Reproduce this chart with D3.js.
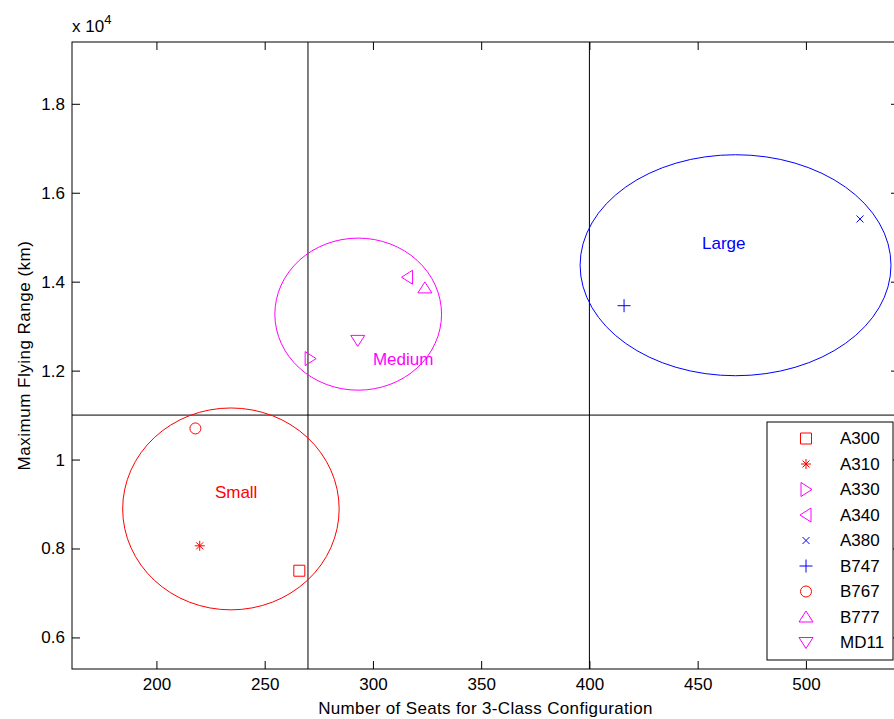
<!DOCTYPE html>
<html>
<head>
<meta charset="utf-8">
<script src="https://cdn.jsdelivr.net/npm/d3@7"></script>
<style>
  body { margin: 0; background: #fff; }
  svg { display: block; font-family: "Liberation Sans", Arial, sans-serif; }
</style>
</head>
<body>
<svg id="chart" width="894" height="719"></svg>
<script>
// aircraft data
var aircraft = ['A300', 'A310', 'A330', 'A340', 'A380', 'B747', 'B767', 'B777', 'MD11'];
var seats    = [266, 220, 271, 316, 525, 416, 218, 324, 293];
var flyRange = [7500, 8060, 12270, 14100, 15410, 13460, 10700, 13860, 12680];
var markers  = ['square', 'asterisk', 'triRight', 'triLeft', 'times', 'plus', 'circle', 'triUp', 'triDown'];
var classOf  = [0, 0, 1, 1, 2, 2, 0, 1, 1];

// size classes (ellipses)
var classNames  = ['Small', 'Medium', 'Large'];
var classColors = ['#ff0000', '#ff00ff', '#0000ff'];
var ellCx = [234.4, 293.2, 467.5];
var ellCy = [8890, 13270, 14370];
var ellRx = [50, 38.5, 71.8];
var ellRy = [2270, 1710, 2485];
var labelX = [227, 300, 452];
var labelY = [9260, 12270, 14880];

// divider lines
var xDividers = [270, 400];
var yDividers = [11000];

var xTicks = [200, 250, 300, 350, 400, 450, 500];
var yTicks = [6000, 8000, 10000, 12000, 14000, 16000, 18000];

var axLeft = 72, axRight = 899, axTop = 42, axBottom = 669;
var fs = 17;

var svg = d3.select('#chart');

var x = d3.scaleLinear().domain([161, 543]).range([axLeft, axRight]);
var y = d3.scaleLinear().domain([5290, 19390]).range([axBottom, axTop]);

// marker path, centred at 0,0
function markerPath(type){
  var p = d3.path();
  if (type == 'square') {
    p.rect(-5.5, -5.5, 11, 11);
  } else if (type == 'circle') {
    p.moveTo(5.5, 0); p.arc(0, 0, 5.5, 0, 2 * Math.PI);
  } else if (type == 'triUp') {
    p.moveTo(0, -6); p.lineTo(7, 5); p.lineTo(-7, 5); p.closePath();
  } else if (type == 'triDown') {
    p.moveTo(0, 6); p.lineTo(7, -5); p.lineTo(-7, -5); p.closePath();
  } else if (type == 'triRight') {
    p.moveTo(6, 0); p.lineTo(-5, -7); p.lineTo(-5, 7); p.closePath();
  } else if (type == 'triLeft') {
    p.moveTo(-6, 0); p.lineTo(5, -7); p.lineTo(5, 7); p.closePath();
  } else if (type == 'plus') {
    p.moveTo(-6.5, 0); p.lineTo(6.5, 0); p.moveTo(0, -6.5); p.lineTo(0, 6.5);
  } else if (type == 'times') {
    p.moveTo(-3.5, -3.5); p.lineTo(3.5, 3.5); p.moveTo(3.5, -3.5); p.lineTo(-3.5, 3.5);
  } else if (type == 'asterisk') {
    p.moveTo(-5, 0); p.lineTo(5, 0); p.moveTo(0, -5); p.lineTo(0, 5);
    p.moveTo(-3.5, -3.5); p.lineTo(3.5, 3.5); p.moveTo(3.5, -3.5); p.lineTo(-3.5, 3.5);
  }
  return p.toString();
}

// axes box + ticks (inward, on all four sides)
svg.append('rect')
  .attr('x', axLeft).attr('y', axTop)
  .attr('width', axRight - axLeft).attr('height', axBottom - axTop)
  .attr('fill', 'none').attr('stroke', '#000');

var gB = svg.append('g').attr('transform', 'translate(0,' + axBottom + ')')
  .call(d3.axisBottom(x).tickValues(xTicks).tickSize(-8).tickPadding(9));
var gT = svg.append('g').attr('transform', 'translate(0,' + axTop + ')')
  .call(d3.axisTop(x).tickValues(xTicks).tickSize(-8).tickFormat(''));
var gL = svg.append('g').attr('transform', 'translate(' + axLeft + ',0)')
  .call(d3.axisLeft(y).tickValues(yTicks).tickSize(-8).tickPadding(7)
    .tickFormat(function(d){ return d3.format('~g')(d / 10000); }));
var gR = svg.append('g').attr('transform', 'translate(' + axRight + ',0)')
  .call(d3.axisRight(y).tickValues(yTicks).tickSize(-8).tickFormat(''));

[gB, gT, gL, gR].forEach(function(g){
  g.attr('font-family', null).attr('font-size', null);
  g.select('.domain').remove();
  g.selectAll('line').attr('stroke', '#000');
  g.selectAll('text').attr('fill', '#000').style('font-size', fs + 'px');
});
gB.selectAll('text').attr('dy', '0.71em');

// exponent label
var ex = svg.append('text').attr('x', axLeft).attr('y', 32)
  .style('font-size', fs + 'px');
ex.append('tspan').text('x 10');
ex.append('tspan').attr('dy', -8).style('font-size', '13px').text('4');

// axis labels
svg.append('text')
  .attr('x', (axLeft + axRight) / 2).attr('y', 714)
  .attr('text-anchor', 'middle').style('font-size', fs + 'px')
  .style('letter-spacing', '0.35px')
  .text('Number of Seats for 3-Class Configuration');

svg.append('text')
  .attr('transform', 'translate(30,' + ((axTop + axBottom) / 2) + ') rotate(-90)')
  .attr('text-anchor', 'middle').style('font-size', fs + 'px')
  .style('letter-spacing', '0.5px')
  .text('Maximum Flying Range (km)');

// divider lines
svg.selectAll('.xdiv').data(xDividers).enter().append('line')
  .attr('class', 'xdiv')
  .attr('x1', function(d){ return x(d); }).attr('x2', function(d){ return x(d); })
  .attr('y1', axTop).attr('y2', axBottom)
  .attr('stroke', '#000');

svg.selectAll('.ydiv').data(yDividers).enter().append('line')
  .attr('class', 'ydiv')
  .attr('x1', axLeft).attr('x2', axRight)
  .attr('y1', function(d){ return y(d); }).attr('y2', function(d){ return y(d); })
  .attr('stroke', '#000');

// class ellipses
svg.selectAll('ellipse').data(classNames).enter().append('ellipse')
  .attr('cx', function(d, i){ return x(ellCx[i]); })
  .attr('cy', function(d, i){ return y(ellCy[i]); })
  .attr('rx', function(d, i){ return x(ellCx[i] + ellRx[i]) - x(ellCx[i]); })
  .attr('ry', function(d, i){ return y(ellCy[i]) - y(ellCy[i] + ellRy[i]); })
  .attr('fill', 'none')
  .attr('stroke', function(d, i){ return classColors[i]; });

svg.selectAll('.classlabel').data(classNames).enter().append('text')
  .attr('class', 'classlabel')
  .attr('x', function(d, i){ return x(labelX[i]); })
  .attr('y', function(d, i){ return y(labelY[i]); })
  .attr('dy', '0.35em')
  .attr('fill', function(d, i){ return classColors[i]; })
  .style('font-size', fs + 'px')
  .text(function(d){ return d; });

// aircraft markers
svg.selectAll('.pt').data(aircraft).enter().append('path')
  .attr('class', 'pt')
  .attr('transform', function(d, i){ return 'translate(' + x(seats[i]) + ',' + y(flyRange[i]) + ')'; })
  .attr('d', function(d, i){ return markerPath(markers[i]); })
  .attr('fill', 'none')
  .attr('stroke', function(d, i){ return classColors[classOf[i]]; });

// legend
var lg = svg.append('g');
lg.append('rect')
  .attr('x', 767).attr('y', 422).attr('width', 126).attr('height', 238)
  .attr('fill', '#fff').attr('stroke', '#000');

var rowY = d3.scaleLinear().domain([0, aircraft.length - 1]).range([438.5, 642.5]);

lg.selectAll('.lm').data(aircraft).enter().append('path')
  .attr('class', 'lm')
  .attr('transform', function(d, i){ return 'translate(806,' + rowY(i) + ')'; })
  .attr('d', function(d, i){ return markerPath(markers[i]); })
  .attr('fill', 'none')
  .attr('stroke', function(d, i){ return classColors[classOf[i]]; });

lg.selectAll('.lt').data(aircraft).enter().append('text')
  .attr('class', 'lt')
  .attr('x', 840)
  .attr('y', function(d, i){ return rowY(i); })
  .attr('dy', '0.35em')
  .style('font-size', fs + 'px')
  .text(function(d){ return d; });
</script>
</body>
</html>
